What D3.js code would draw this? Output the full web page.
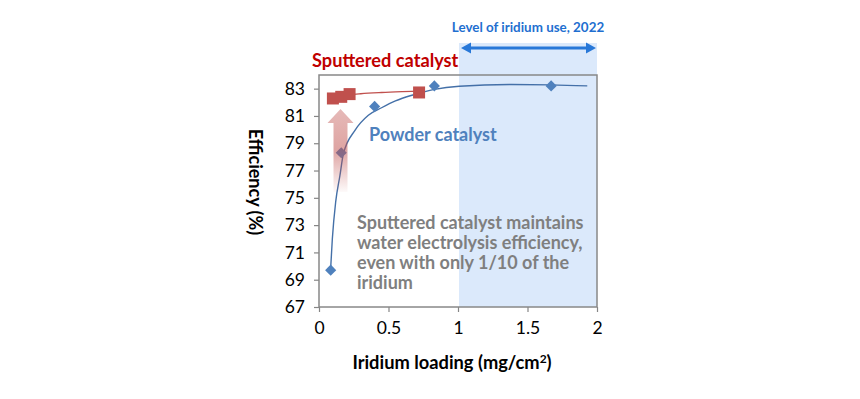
<!DOCTYPE html>
<html>
<head>
<meta charset="utf-8">
<script src="https://cdn.jsdelivr.net/npm/d3@7"></script>
<style>
  html, body { margin: 0; padding: 0; background: #fff; }
  svg { display: block; font-family: Lato, "Open Sans", sans-serif; }
</style>
</head>
<body>
<div id="wrapper"></div>
<script>
// measured points
const sputteredX = [0.10, 0.16, 0.22, 0.72]
const sputteredY = [82.28, 82.4, 82.6, 82.72]
const powderX = [0.084, 0.16, 0.40, 0.83, 1.67]
const powderY = [69.7, 78.3, 81.7, 83.2, 83.2]

// fitted trend lines as drawn in the picture
const sputteredFitX = [0.10, 0.16, 0.22, 0.30, 0.45, 0.60, 0.73]
const sputteredFitY = [82.3, 82.45, 82.55, 82.63, 82.72, 82.78, 82.82]
const powderFitX = [0.084, 0.096, 0.12, 0.15, 0.175, 0.26, 0.355, 0.45, 0.55, 0.68, 0.83, 1.01, 1.37, 1.67, 1.93]
const powderFitY = [69.85, 72.0, 74.7, 76.6, 78.2, 79.96, 81.05, 81.6, 82.1, 82.55, 82.95, 83.18, 83.3, 83.28, 83.2]

const xTicks = [0, 0.5, 1, 1.5, 2]
const yTicks = [67, 69, 71, 73, 75, 77, 79, 81, 83]
const usageRange = [1, 2]

const noteLines = ["Sputtered catalyst maintains", "water electrolysis efficiency,", "even with only 1/10 of the", "iridium"]

const width = 860, height = 399
const plot = { left: 319, right: 597, top: 75, bottom: 307 }

const svg = d3.select("#wrapper").append("svg")
    .attr("width", width)
    .attr("height", height)

const defs = svg.append("defs")
const grad = defs.append("linearGradient")
    .attr("id", "arrowGrad")
    .attr("x1", 0).attr("y1", 0).attr("x2", 0).attr("y2", 1)
grad.append("stop").attr("offset", "0%").attr("stop-color", "#c0504d").attr("stop-opacity", 0.4)
grad.append("stop").attr("offset", "50%").attr("stop-color", "#c0504d").attr("stop-opacity", 0.52)
grad.append("stop").attr("offset", "100%").attr("stop-color", "#c0504d").attr("stop-opacity", 0.03)

const xScale = d3.scaleLinear().domain([0, 2]).range([plot.left, plot.right])
const yScale = d3.scaleLinear().domain([67, 84]).range([plot.bottom, plot.top])

// shaded band for current iridium usage
svg.append("rect")
    .attr("x", xScale(usageRange[0]) + 1)
    .attr("y", 43)
    .attr("width", xScale(usageRange[1]) - xScale(usageRange[0]) - 1)
    .attr("height", plot.bottom - 43)
    .attr("fill", "#dbe9fb")

// axes
const xAxis = svg.append("g")
    .attr("transform", `translate(0,${plot.bottom})`)
    .call(d3.axisBottom(xScale).tickValues(xTicks).tickSize(5).tickPadding(10).tickFormat(d3.format("")))
const yAxis = svg.append("g")
    .attr("transform", `translate(${plot.left},0)`)
    .call(d3.axisLeft(yScale).tickValues(yTicks).tickSize(5).tickPadding(9))

;[xAxis, yAxis].forEach(ax => {
    ax.select(".domain").remove()
    ax.selectAll(".tick line").attr("stroke", "#868686").attr("stroke-width", 1.2)
    ax.selectAll(".tick text")
        .attr("fill", "#000")
        .style("font-family", "Lato, sans-serif")
        .style("font-size", "17.5px")
})

// plot border
svg.append("rect")
    .attr("x", plot.left)
    .attr("y", plot.top)
    .attr("width", plot.right - plot.left)
    .attr("height", plot.bottom - plot.top)
    .attr("fill", "none")
    .attr("stroke", "#888")
    .attr("stroke-width", 1.5)

const line = d3.line()
    .x(d => xScale(d[0]))
    .y(d => yScale(d[1]))
    .curve(d3.curveMonotoneX)

svg.append("path")
    .datum(powderFitX.map((x, i) => [x, powderFitY[i]]))
    .attr("d", line)
    .attr("fill", "none")
    .attr("stroke", "#4470a8")
    .attr("stroke-width", 1.4)

svg.append("path")
    .datum(sputteredFitX.map((x, i) => [x, sputteredFitY[i]]))
    .attr("d", line)
    .attr("fill", "none")
    .attr("stroke", "#c0504d")
    .attr("stroke-width", 1.4)

// powder diamonds
svg.append("g").selectAll("path")
    .data(powderX.map((x, i) => [x, powderY[i]]))
    .join("path")
    .attr("d", d3.symbol(d3.symbolSquare, 62))
    .attr("transform", d => `translate(${xScale(d[0])},${yScale(d[1])}) rotate(45)`)
    .attr("fill", "#4f81bd")

// big arrow showing the gain (over the diamond, so it tints it)
const ax0 = 340.5, aTop = 109, aHead = 123, aBot = 192
svg.append("path")
    .attr("d", `M${ax0},${aTop} L${ax0 + 13},${aHead} L${ax0 + 7},${aHead} L${ax0 + 7},${aBot} L${ax0 - 7},${aBot} L${ax0 - 7},${aHead} L${ax0 - 13},${aHead} Z`)
    .attr("fill", "url(#arrowGrad)")

// sputtered squares
svg.append("g").selectAll("rect")
    .data(sputteredX.map((x, i) => [x, sputteredY[i]]))
    .join("rect")
    .attr("x", d => xScale(d[0]) - 6)
    .attr("y", d => yScale(d[1]) - 6)
    .attr("width", 12)
    .attr("height", 12)
    .attr("fill", "#c0504d")

// double arrow above band
const arrowY = 48
const x1 = xScale(usageRange[0]) + 3, x2 = xScale(usageRange[1]) - 1
svg.append("line")
    .attr("x1", x1 + 6).attr("x2", x2 - 6)
    .attr("y1", arrowY).attr("y2", arrowY)
    .attr("stroke", "#2878d8").attr("stroke-width", 3)
svg.append("path")
    .attr("d", `M${x1},${arrowY} L${x1 + 10},${arrowY - 5.5} L${x1 + 10},${arrowY + 5.5} Z M${x2},${arrowY} L${x2 - 10},${arrowY - 5.5} L${x2 - 10},${arrowY + 5.5} Z`)
    .attr("fill", "#2878d8")

svg.append("text")
    .attr("x", 528).attr("y", 32)
    .attr("text-anchor", "middle")
    .attr("fill", "#1f6fd0")
    .style("font-weight", "bold")
    .style("font-size", "13.4px")
    .text("Level of iridium use, 2022")

svg.append("text")
    .attr("x", 312).attr("y", 67)
    .attr("fill", "#c00000")
    .style("font-weight", "bold")
    .style("font-size", "18.2px")
    .text("Sputtered catalyst")

svg.append("text")
    .attr("x", 369).attr("y", 141)
    .attr("fill", "#4f81bd")
    .style("font-weight", "bold")
    .style("font-size", "18px")
    .text("Powder catalyst")

svg.append("g").selectAll("text")
    .data(noteLines)
    .join("text")
    .attr("x", 357)
    .attr("y", (d, i) => 229 + i * 20)
    .attr("fill", "#7f7f7f")
    .style("font-weight", "bold")
    .style("font-size", "18px")
    .text(d => d)

// axis titles
svg.append("text")
    .attr("x", 452).attr("y", 369)
    .attr("text-anchor", "middle")
    .style("font-weight", "bold")
    .style("font-size", "18.3px")
    .html("Iridium loading (mg/cm<tspan dy='-6' font-size='12px'>2</tspan><tspan dy='6'>)</tspan>")

svg.append("text")
    .attr("transform", "translate(249,182) rotate(90)")
    .attr("text-anchor", "middle")
    .style("font-weight", "bold")
    .style("font-size", "18px")
    .text("Efficiency (%)")
</script>
</body>
</html>
